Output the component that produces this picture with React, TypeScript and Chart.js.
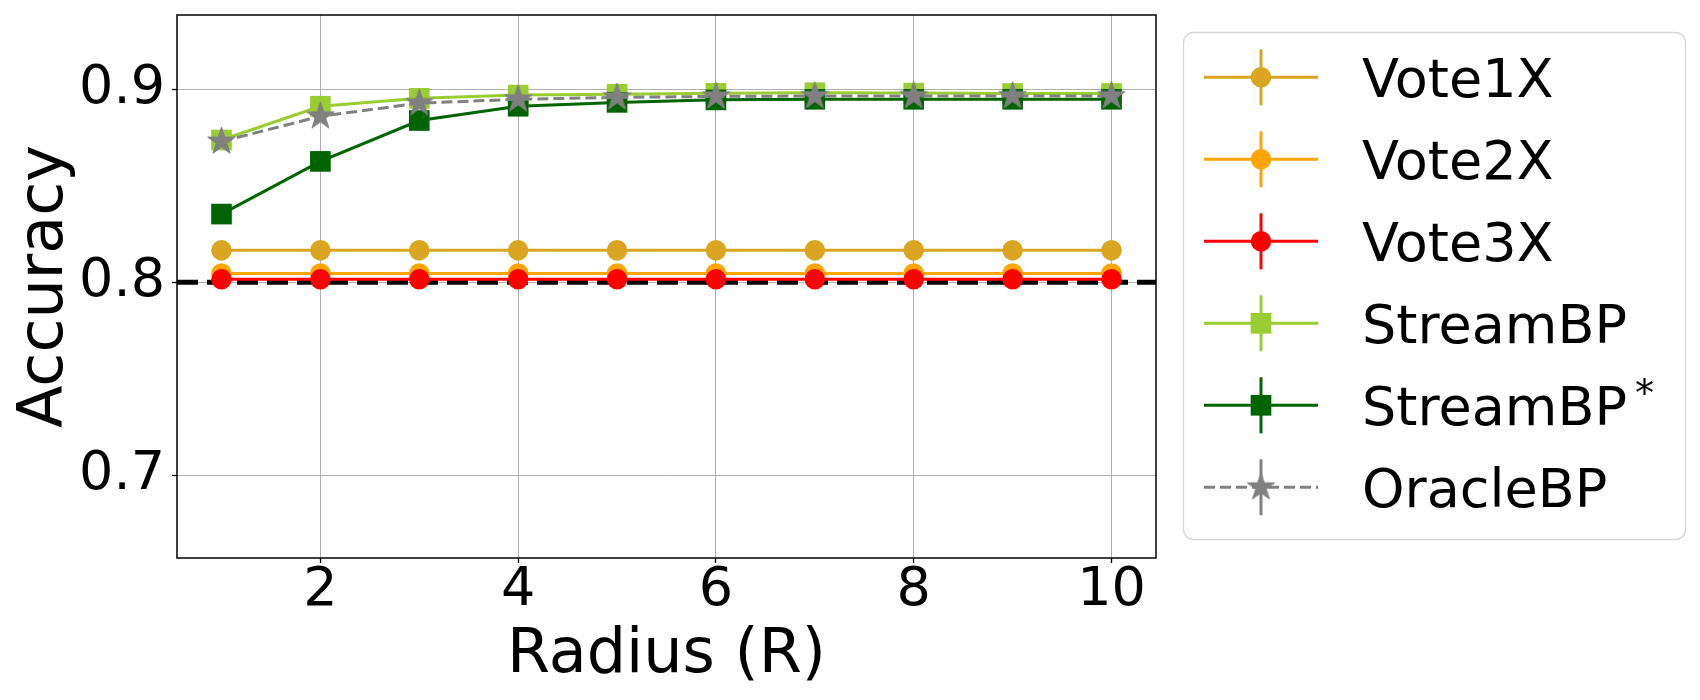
import React, { useEffect, useRef } from 'react';
import { Chart, registerables } from 'chart.js';

Chart.register(...registerables);

// ---------------- data ----------------
const radii = [1, 2, 3, 4, 5, 6, 7, 8, 9, 10];
const vote1X = [0.8165, 0.8165, 0.8165, 0.8165, 0.8165, 0.8165, 0.8165, 0.8165, 0.8165, 0.8165];
const vote2X = [0.8045, 0.8045, 0.8045, 0.8045, 0.8045, 0.8045, 0.8045, 0.8045, 0.8045, 0.8045];
const vote3X = [0.8015, 0.8015, 0.8015, 0.8015, 0.8015, 0.8015, 0.8015, 0.8015, 0.8015, 0.8015];
const streamBP = [0.8737, 0.8912, 0.8953, 0.897, 0.8974, 0.8979, 0.8982, 0.898, 0.8978, 0.8978];
const streamBPStar = [0.8353, 0.8626, 0.8838, 0.8912, 0.8932, 0.8945, 0.8948, 0.8948, 0.8948, 0.8948];
const oracleBP = [0.8729, 0.886, 0.8928, 0.8948, 0.8958, 0.8963, 0.8965, 0.8965, 0.8965, 0.8965];
const baselineAccuracy = 0.8;

const seriesNames = ['Vote1X', 'Vote2X', 'Vote3X', 'StreamBP', 'StreamBP*', 'OracleBP'];
const seriesValues = [vote1X, vote2X, vote3X, streamBP, streamBPStar, oracleBP];
const seriesColors = ['#DAA520', '#FFA500', '#FF0000', '#9ACD32', '#006400', '#808080'];
const seriesMarkers = ['circle', 'circle', 'circle', 'rect', 'rect', 'star'];
const seriesDashed = [false, false, false, false, false, true];

const xTicks = [2, 4, 6, 8, 10];
const yTicks = [0.7, 0.8, 0.9];
const xMin = 0.55;
const xMax = 10.45;
const yMin = 0.657;
const yMax = 0.9385;

const xTitle = 'Radius (R)';
const yTitle = 'Accuracy';

// ---------------- styles ----------------
const FONT = "'DejaVu Sans', 'Liberation Sans', sans-serif";
const TICK_SIZE = 54;
const TITLE_SIZE = 62;
const LEGEND_SIZE = 54;
const CIRCLE_R = 10.3;
const RECT_R = 14.6;
const STAR_R = 14.5;
const LINE_W = 3;
const GRAY_DASH = [11, 5];

function makeStar(color: string, R: number): HTMLCanvasElement {
  const size = Math.ceil(R * 2 + 4);
  const c = document.createElement('canvas');
  c.width = size;
  c.height = size;
  const ctx = c.getContext('2d')!;
  const cx = size / 2;
  const cy = size / 2;
  const r = R * 0.381966;
  ctx.beginPath();
  for (let i = 0; i < 10; i++) {
    const rad = i % 2 === 0 ? R : r;
    const a = -Math.PI / 2 + (i * Math.PI) / 5;
    const x = cx + rad * Math.cos(a);
    const y = cy + rad * Math.sin(a);
    if (i === 0) ctx.moveTo(x, y);
    else ctx.lineTo(x, y);
  }
  ctx.closePath();
  ctx.fillStyle = color;
  ctx.fill();
  ctx.lineWidth = 1;
  ctx.strokeStyle = color;
  ctx.stroke();
  return c;
}

function drawMarker(ctx: CanvasRenderingContext2D, marker: string, x: number, y: number, color: string, star: HTMLCanvasElement) {
  ctx.save();
  ctx.fillStyle = color;
  if (marker === 'circle') {
    ctx.beginPath();
    ctx.arc(x, y, CIRCLE_R, 0, Math.PI * 2);
    ctx.fill();
  } else if (marker === 'rect') {
    const s = RECT_R * Math.SQRT1_2;
    ctx.fillRect(x - s, y - s, 2 * s, 2 * s);
  } else {
    ctx.drawImage(star, x - star.width / 2, y - star.height / 2);
  }
  ctx.restore();
}

export default function App() {
  const ref = useRef<HTMLCanvasElement>(null);

  useEffect(() => {
    document.body.style.margin = '0';
    const star = makeStar('#808080', STAR_R);

    const datasets = seriesNames.map((name, idx) => ({
      label: name,
      data: radii.map((r, i) => ({ x: r, y: seriesValues[idx][i] })),
      borderColor: seriesColors[idx],
      backgroundColor: seriesColors[idx],
      borderWidth: LINE_W,
      borderDash: seriesDashed[idx] ? GRAY_DASH : [],
      pointStyle: seriesMarkers[idx] === 'star' ? star : seriesMarkers[idx],
      pointRadius: seriesMarkers[idx] === 'circle' ? CIRCLE_R : RECT_R,
      pointBackgroundColor: seriesColors[idx],
      pointBorderColor: seriesColors[idx],
      pointBorderWidth: 0,
      tension: 0,
      order: seriesNames.length - idx,
    }));

    const customPlugin = {
      id: 'custom',
      beforeDatasetsDraw(chart: any) {
        const { ctx, chartArea } = chart;
        const y = chart.scales.y.getPixelForValue(baselineAccuracy);
        ctx.save();
        ctx.beginPath();
        ctx.rect(chartArea.left, chartArea.top, chartArea.right - chartArea.left, chartArea.bottom - chartArea.top);
        ctx.clip();
        ctx.strokeStyle = '#000000';
        ctx.lineWidth = 5;
        ctx.setLineDash([21, 9]);
        ctx.beginPath();
        ctx.moveTo(chartArea.left, y);
        ctx.lineTo(chartArea.right, y);
        ctx.stroke();
        ctx.restore();
      },
      afterDraw(chart: any) {
        const { ctx, chartArea } = chart;
        // frame
        ctx.save();
        ctx.strokeStyle = '#000000';
        ctx.lineWidth = 1.5;
        ctx.strokeRect(chartArea.left, chartArea.top, chartArea.right - chartArea.left, chartArea.bottom - chartArea.top);

        // axis titles
        ctx.fillStyle = '#000000';
        ctx.font = `${TITLE_SIZE}px ${FONT}`;
        ctx.textAlign = 'center';
        ctx.textBaseline = 'alphabetic';
        ctx.fillText(xTitle, (chartArea.left + chartArea.right) / 2, 672);
        ctx.save();
        ctx.translate(62, (chartArea.top + chartArea.bottom) / 2);
        ctx.rotate(-Math.PI / 2);
        ctx.fillText(yTitle, 0, 0);
        ctx.restore();

        // legend
        const bx = 1183.5;
        const by = 32.5;
        const bw = 502;
        const bh = 507;
        ctx.beginPath();
        ctx.roundRect(bx, by, bw, bh, 10);
        ctx.fillStyle = 'rgba(255,255,255,0.8)';
        ctx.fill();
        ctx.strokeStyle = '#d6d6d6';
        ctx.lineWidth = 1.3;
        ctx.stroke();

        const rowStart = 77.3;
        const rowStep = 82;
        seriesNames.forEach((name, idx) => {
          const cy = rowStart + idx * rowStep;
          const color = seriesColors[idx];
          ctx.save();
          ctx.strokeStyle = color;
          ctx.lineWidth = LINE_W;
          ctx.setLineDash(seriesDashed[idx] ? GRAY_DASH : []);
          ctx.beginPath();
          ctx.moveTo(1204, cy);
          ctx.lineTo(1318, cy);
          ctx.stroke();
          ctx.setLineDash([]);
          ctx.beginPath();
          ctx.moveTo(1261, cy - 28);
          ctx.lineTo(1261, cy + 28);
          ctx.stroke();
          ctx.restore();
          drawMarker(ctx, seriesMarkers[idx], 1261, cy, color, star);

          ctx.fillStyle = '#000000';
          ctx.font = `${LEGEND_SIZE}px ${FONT}`;
          ctx.textAlign = 'left';
          ctx.textBaseline = 'alphabetic';
          const base = cy + LEGEND_SIZE * 0.729 / 2;
          let text = name;
          let sup = '';
          if (name.endsWith('*')) {
            text = name.slice(0, -1);
            sup = '*';
          }
          ctx.fillText(text, 1362, base);
          if (sup) {
            const w = ctx.measureText(text).width;
            ctx.font = `${Math.round(LEGEND_SIZE * 0.7)}px ${FONT}`;
            ctx.fillText(sup, 1362 + w + 8, base - 19);
          }
        });
        ctx.restore();
      },
    };

    const chart = new Chart(ref.current!, {
      type: 'line',
      data: { datasets: datasets as any },
      options: {
        responsive: false,
        maintainAspectRatio: false,
        devicePixelRatio: 1,
        animation: false,
        events: [],
        layout: { padding: { left: 0, top: 15, right: 544, bottom: 0 } },
        plugins: { legend: { display: false }, tooltip: { enabled: false } },
        scales: {
          x: {
            type: 'linear',
            min: xMin,
            max: xMax,
            afterBuildTicks: (scale: any) => {
              scale.ticks = xTicks.map((v) => ({ value: v }));
            },
            afterFit: (scale: any) => {
              scale.height = 142;
              scale.paddingLeft = 0;
              scale.paddingRight = 0;
              scale.paddingTop = 0;
              scale.paddingBottom = 0;
            },
            border: { display: false },
            grid: {
              color: '#b0b0b0',
              lineWidth: 1,
              tickColor: '#000000',
              tickLength: 5,
              tickWidth: 1.3,
              drawTicks: true,
            },
            ticks: {
              autoSkip: false,
              maxRotation: 0,
              color: '#000000',
              padding: 1,
              font: { family: FONT, size: TICK_SIZE, lineHeight: 1 },
              callback: (v: any) => String(v),
            },
          },
          y: {
            type: 'linear',
            min: yMin,
            max: yMax,
            afterBuildTicks: (scale: any) => {
              scale.ticks = yTicks.map((v) => ({ value: v }));
            },
            afterFit: (scale: any) => {
              scale.width = 177;
              scale.paddingLeft = 0;
              scale.paddingRight = 0;
              scale.paddingTop = 0;
              scale.paddingBottom = 0;
            },
            border: { display: false },
            grid: {
              color: '#b0b0b0',
              lineWidth: 1,
              tickColor: '#000000',
              tickLength: 5,
              tickWidth: 1.3,
              drawTicks: true,
            },
            ticks: {
              autoSkip: false,
              color: '#000000',
              padding: 7,
              font: { family: FONT, size: TICK_SIZE, lineHeight: 1 },
              callback: (v: any) => Number(v).toFixed(1),
            },
          },
        },
      },
      plugins: [customPlugin],
    } as any);

    return () => chart.destroy();
  }, []);

  return (
    <div style={{ width: 1700, height: 700 }}>
      <canvas ref={ref} width={1700} height={700} style={{ display: 'block', width: 1700, height: 700 }} />
    </div>
  );
}
